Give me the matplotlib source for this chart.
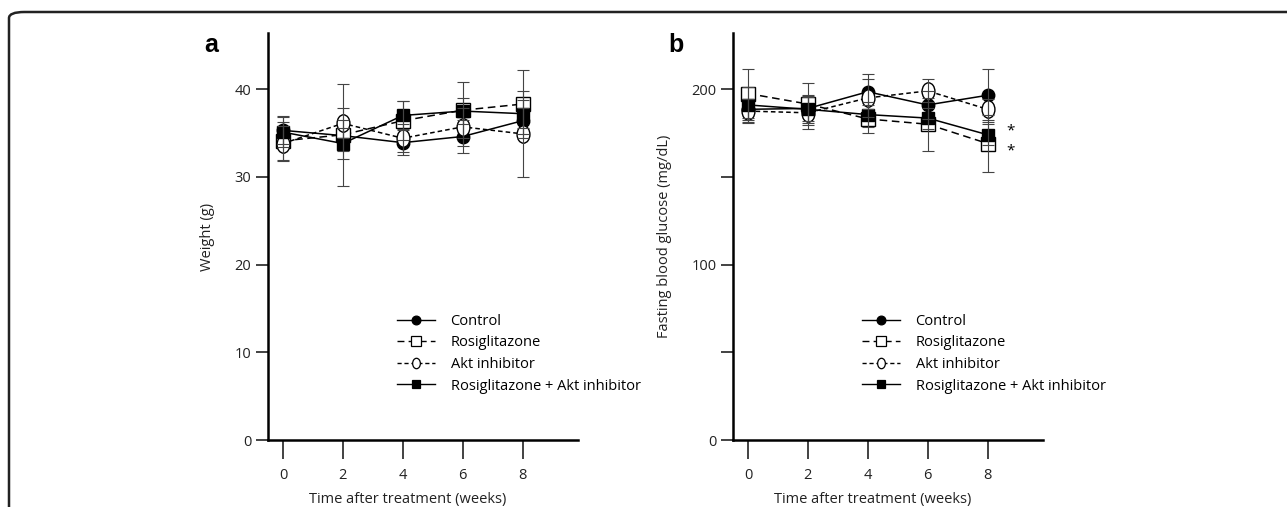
import matplotlib
matplotlib.use("Agg")
import matplotlib.pyplot as plt
from matplotlib.path import Path
from matplotlib.transforms import Affine2D
from matplotlib.patches import FancyBboxPatch
from matplotlib.lines import Line2D

plt.rcParams['font.family'] = ['Open Sans', 'DejaVu Sans']

weeks = [0, 2, 4, 6, 8]
series_names = ['Control', 'Rosiglitazone', 'Akt inhibitor', 'Rosiglitazone + Akt inhibitor']

# panel a: body weight (g)
weight_ctrl = [35.3, 34.7, 33.9, 34.6, 36.4]
weight_rosi = [34.1, 34.8, 36.4, 37.6, 38.3]
weight_akt = [33.8, 36.1, 34.4, 35.7, 34.9]
weight_combo = [35.1, 33.8, 37.0, 37.5, 37.2]
weight_ctrl_err = [1.6, 1.8, 1.4, 1.9, 1.5]
weight_rosi_err = [2.2, 5.8, 2.2, 3.2, 3.9]
weight_akt_err = [2.0, 1.7, 1.6, 2.2, 4.9]
weight_combo_err = [1.7, 1.8, 1.6, 1.5, 1.6]

# panel b: fasting blood glucose (mg/dL)
glucose_ctrl = [188.5, 189.0, 198.5, 191.0, 196.5]
glucose_rosi = [197.5, 191.5, 183.0, 180.0, 169.0]
glucose_akt = [187.5, 186.5, 195.0, 199.0, 188.5]
glucose_combo = [191.0, 188.5, 185.5, 183.5, 174.0]
glucose_ctrl_err = [6.0, 7.0, 10.0, 8.0, 15.0]
glucose_rosi_err = [14.0, 12.0, 8.0, 15.0, 16.0]
glucose_akt_err = [7.0, 9.0, 11.0, 6.5, 6.0]
glucose_combo_err = [10.0, 8.0, 7.0, 6.0, 6.0]

# tall open ellipse marker for the Akt inhibitor group
ellipse = Path.unit_circle().transformed(Affine2D().scale(0.74, 1.0))

styles = [
    dict(marker='o', ls='-', mfc='black', ms=9),
    dict(marker='s', ls=(0, (5, 3)), mfc='white', ms=9.5),
    dict(marker=ellipse, ls=(0, (3, 2)), mfc='white', ms=12.5),
    dict(marker='s', ls='-', mfc='black', ms=8.5),
]

fig = plt.figure(figsize=(12.87, 5.07), dpi=100)

# rounded frame running off the right and bottom edges
frame = FancyBboxPatch((9 / 1287, -0.2), 1.2, 1.2 - 12 / 507,
                       boxstyle="round,pad=0,rounding_size=0.012",
                       transform=fig.transFigure, fill=False,
                       edgecolor='#222222', linewidth=1.8, zorder=0)
fig.patches.append(frame)


def draw_panel(rect, values, errors, ylim, yticks, ylabels, ylabel, letter, label_x):
    ax = fig.add_axes(rect)
    for vals, errs, st in zip(values, errors, styles):
        ax.plot(weeks, vals, color='black', lw=1.1, ls=st['ls'], marker=st['marker'],
                ms=st['ms'], mfc=st['mfc'], mec='black', mew=1.0, zorder=3)
        ax.errorbar(weeks, vals, yerr=errs, fmt='none', ecolor='#444444',
                    elinewidth=0.8, capsize=4, capthick=0.8, zorder=4)
    ax.set_xlim(-0.5, 9.85)
    ax.set_ylim(*ylim)
    ax.set_xticks(weeks)
    ax.set_yticks(yticks)
    ax.set_yticklabels(ylabels)
    ax.spines['top'].set_visible(False)
    ax.spines['right'].set_visible(False)
    ax.spines['left'].set_linewidth(1.8)
    ax.spines['bottom'].set_linewidth(1.8)
    ax.tick_params(axis='x', length=14, width=1.2, pad=6, labelsize=10.5, colors='#222222')
    ax.tick_params(axis='y', length=9, width=1.2, pad=3, labelsize=10.5, colors='#222222')
    ax.set_ylabel(ylabel, fontsize=10.5, color='#222222', labelpad=14)
    fig.text(label_x, 1 - 45 / 507, letter, fontsize=18, fontweight='bold',
             family=['Liberation Sans', 'DejaVu Sans'], ha='center', va='center')
    fig.text(rect[0] + (0.5 + 4 + 0.15) * rect[2] / 10.35, 1 - 500 / 507,
             'Time after treatment (weeks)', fontsize=10.5, color='#222222',
             ha='center', va='center')

    handles = []
    for st in styles:
        ms = st['ms'] * (0.7 if st['marker'] is not ellipse else 0.6)
        handles.append(Line2D([], [], color='black', lw=1.0, ls=st['ls'], marker=st['marker'],
                              ms=ms, mfc=st['mfc'], mec='black', mew=0.9))
    ax.legend(handles, series_names, loc='upper left', bbox_to_anchor=(0.415, 0.31),
              frameon=False, fontsize=10.5, handlelength=2.6, handletextpad=1.1,
              labelspacing=0.45, borderpad=0, borderaxespad=0)
    return ax


ax_a = draw_panel([268 / 1287, 1 - 440 / 507, 310 / 1287, 407 / 507],
                  [weight_ctrl, weight_rosi, weight_akt, weight_combo],
                  [weight_ctrl_err, weight_rosi_err, weight_akt_err, weight_combo_err],
                  (0, 46.4), [0, 10, 20, 30, 40], ['0', '10', '20', '30', '40'],
                  'Weight (g)', 'a', 211 / 1287)

ax_b = draw_panel([733 / 1287, 1 - 440 / 507, 310 / 1287, 407 / 507],
                  [glucose_ctrl, glucose_rosi, glucose_akt, glucose_combo],
                  [glucose_ctrl_err, glucose_rosi_err, glucose_akt_err, glucose_combo_err],
                  (0, 232), [0, 50, 100, 150, 200], ['0', '', '100', '', '200'],
                  'Fasting blood glucose (mg/dL)', 'b', 676 / 1287)

# significance marks at week 8
ax_b.text(8.75, 176, '*', fontsize=11, ha='center', va='center')
ax_b.text(8.75, 165, '*', fontsize=11, ha='center', va='center')

fig.savefig('out.png', dpi=100)
